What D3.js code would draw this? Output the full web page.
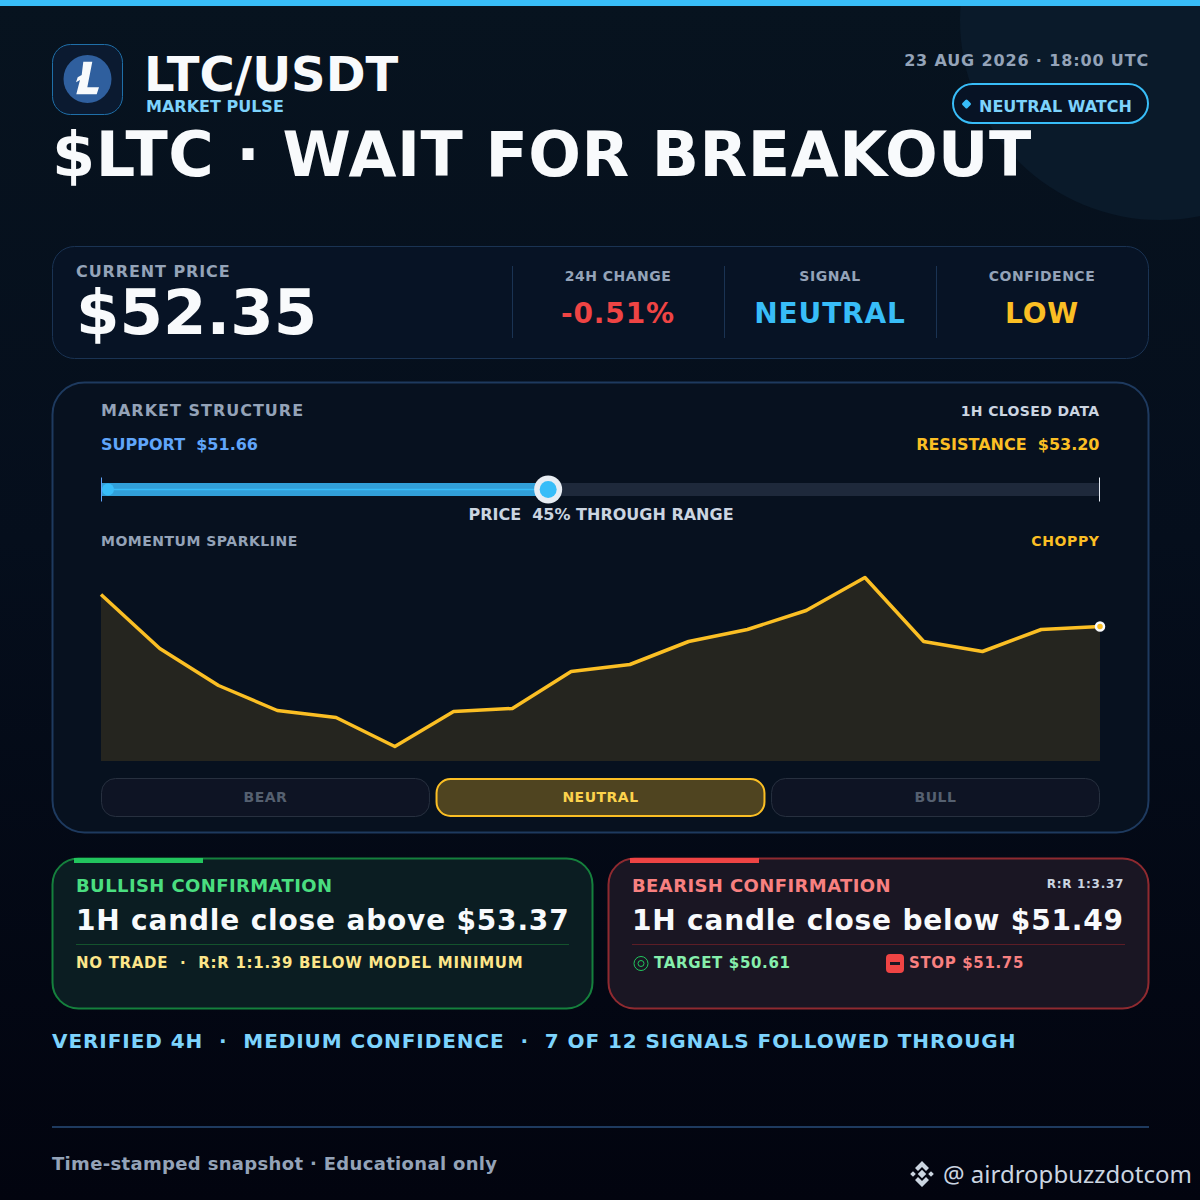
<!DOCTYPE html>
<html>
<head>
<meta charset="utf-8">
<script src="https://cdn.jsdelivr.net/npm/d3@7"></script>
<style>
  html, body { margin: 0; padding: 0; background: #02040f; }
  svg { display: block; }
  text { font-family: "DejaVu Sans", sans-serif; font-weight: 700; white-space: pre; }
</style>
</head>
<body>
<script>
// Values
const momentum = [83.5, 56.5, 38, 25.5, 22, 7.5, 25, 26.5, 45, 48.5, 60, 66, 75.5, 92, 60, 55, 66, 67.5];
const support = 51.66, resistance = 53.2, price = 52.35;
const stats = [
  { label: "24H CHANGE", value: "-0.51%", color: "#ef4444", cx: 618 },
  { label: "SIGNAL", value: "NEUTRAL", color: "#38bdf8", cx: 830 },
  { label: "CONFIDENCE", value: "LOW", color: "#fbbf24", cx: 1042 }
];
const zones = ["BEAR", "NEUTRAL", "BULL"];
const activeZone = "NEUTRAL";

const svg = d3.select("body").append("svg").attr("width", 1200).attr("height", 1200);
const defs = svg.append("defs");

// Page background
const bg = defs.append("linearGradient").attr("id", "bg").attr("x2", 0).attr("y2", 1);
bg.append("stop").attr("offset", "0%").attr("stop-color", "#07131f");
bg.append("stop").attr("offset", "45%").attr("stop-color", "#050e1c");
bg.append("stop").attr("offset", "100%").attr("stop-color", "#02040f");

svg.append("rect").attr("width", 1200).attr("height", 1200).attr("fill", "url(#bg)");
svg.append("circle").attr("cx", 1160).attr("cy", 20).attr("r", 200).attr("fill", "#0a1a2a");
svg.append("rect").attr("width", 1200).attr("height", 6).attr("fill", "#38bdf8");

// Small helpers
function label(x, y, str, size, color, anchor, spacing) {
  return svg.append("text")
    .attr("x", x).attr("y", y)
    .attr("font-size", size)
    .attr("fill", color)
    .attr("text-anchor", anchor || "start")
    .attr("letter-spacing", spacing || 0)
    .text(str);
}
function box(x, y, w, h, r, fill, stroke, sw) {
  return svg.append("rect")
    .attr("x", x).attr("y", y).attr("width", w).attr("height", h)
    .attr("rx", r).attr("ry", r)
    .attr("fill", fill).attr("stroke", stroke).attr("stroke-width", sw || 1);
}

// Header
box(52.5, 44.5, 70, 70, 18, "#0b1a30", "#1f6fa8");
svg.append("circle").attr("cx", 87.5).attr("cy", 79).attr("r", 24).attr("fill", "#2f5f9e");
svg.append("path")
  .attr("d", "M83.3,61.7 L92.3,61.7 L87.3,87.3 L99,87.3 L96.7,94.3 L76.3,94.3 L80,80 L76,82.3 L77.7,77.3 L81.7,75 Z")
  .attr("fill", "#f8fafc");
label(144, 91, "LTC/USDT", 48, "#f8fafc");
label(146, 112, "MARKET PULSE", 16, "#7dd3fc");
label(1149, 66, "23 AUG 2026 · 18:00 UTC", 16, "#94a3b8", "end", 0.85);
box(953, 84, 195, 39, 19.5, "#071325", "#38bdf8", 2);
svg.append("rect").attr("x", -3.6).attr("y", -3.6).attr("width", 7.2).attr("height", 7.2).attr("rx", 1.5)
  .attr("transform", "translate(966.5,104) rotate(45)").attr("fill", "#38bdf8");
label(979, 112, "NEUTRAL WATCH", 16, "#7dd3fc");
label(52, 176, "$LTC · WAIT FOR BREAKOUT", 62, "#f8fafc", "start", 0.5);

// Price card
box(52.5, 246.5, 1096, 112, 22, "#071325", "#1a3353");
label(76, 277, "CURRENT PRICE", 16, "#94a3b8", "start", 0.9);
label(76, 334, "$" + price.toFixed(2), 62.5, "#f8fafc");
[512.5, 724.5, 936.5].forEach(x => {
  svg.append("line").attr("x1", x).attr("x2", x).attr("y1", 266).attr("y2", 338).attr("stroke", "#1a3353");
});
stats.forEach(d => {
  label(d.cx, 281, d.label, 14, "#94a3b8", "middle", 0.5);
  label(d.cx, 323, d.value, 28, d.color, "middle", 0.85);
});

// Market structure panel
box(52.5, 382.5, 1096, 450, 32, "#07111f", "#1e3a5f", 2);
label(101, 416, "MARKET STRUCTURE", 16, "#94a3b8", "start", 1);
label(1099.5, 416, "1H CLOSED DATA", 14, "#cbd5e1", "end", 0.36);
label(101, 450, "SUPPORT  $" + support.toFixed(2), 16, "#60a5fa");
label(1099.5, 450, "RESISTANCE  $" + resistance.toFixed(2), 16, "#fbbf24", "end");

// Range bar
const rangeX = d3.scaleLinear().domain([support, resistance]).range([101, 1099]);
const barY = 489.5;
svg.append("line").attr("x1", rangeX(support)).attr("x2", rangeX(resistance)).attr("y1", barY).attr("y2", barY)
  .attr("stroke", "#1e293b").attr("stroke-width", 13);
svg.append("line").attr("x1", rangeX(support)).attr("x2", rangeX(price)).attr("y1", barY).attr("y2", barY)
  .attr("stroke", "#319fd8").attr("stroke-width", 13);
svg.append("line").attr("x1", rangeX(support)).attr("x2", rangeX(price)).attr("y1", barY).attr("y2", barY)
  .attr("stroke", "#38bdf8").attr("stroke-width", 1.5);
svg.selectAll(".range-end").data([support, resistance]).enter().append("line")
  .attr("class", "range-end")
  .attr("x1", d => rangeX(d) + 0.5).attr("x2", d => rangeX(d) + 0.5)
  .attr("y1", barY - 12).attr("y2", barY + 12)
  .attr("stroke", (d, i) => i ? "#e2e8f0" : "#60a5fa");
svg.append("circle").attr("cx", rangeX(support) + 7).attr("cy", barY).attr("r", 6).attr("fill", "#38bdf8");
svg.append("circle").attr("cx", rangeX(price)).attr("cy", barY).attr("r", 14).attr("fill", "#e8edf3");
svg.append("circle").attr("cx", rangeX(price)).attr("cy", barY).attr("r", 8.5).attr("fill", "#38bdf8");
label(601, 520, "PRICE  45% THROUGH RANGE", 16, "#cbd5e1", "middle");

// Sparkline
label(101, 546, "MOMENTUM SPARKLINE", 14, "#94a3b8", "start", 0.5);
label(1099.5, 546, "CHOPPY", 14, "#fbbf24", "end", 0.6);
const sx = d3.scaleLinear().domain([0, momentum.length - 1]).range([101, 1100]);
const sy = d3.scaleLinear().domain([0, 100]).range([761.5, 561.5]);
svg.append("path").datum(momentum)
  .attr("d", d3.area().x((d, i) => sx(i)).y0(761).y1(d => sy(d)))
  .attr("fill", "#fbbf24").attr("fill-opacity", 0.12);
svg.append("path").datum(momentum)
  .attr("d", d3.line().x((d, i) => sx(i)).y(d => sy(d)))
  .attr("fill", "none").attr("stroke", "#fbbf24").attr("stroke-width", 3.5).attr("stroke-linejoin", "round");
svg.append("circle")
  .attr("cx", sx(momentum.length - 1)).attr("cy", sy(momentum[momentum.length - 1]))
  .attr("r", 4).attr("fill", "#fbbf24").attr("stroke", "#f8fafc").attr("stroke-width", 2.5);

// Bear / neutral / bull strip
const zoneX = d3.scaleBand().domain(zones).range([101, 1100]).paddingInner(0.0182);
zones.forEach(z => {
  const on = z === activeZone;
  box(zoneX(z) + 0.5, on ? 779 : 778.5, zoneX.bandwidth() - 1, on ? 37 : 38, 14,
    on ? "#4f4420" : "#0e1424", on ? "#fbbf24" : "#27303f", on ? 2 : 1);
  label(zoneX(z) + zoneX.bandwidth() / 2, 802, z, 14, on ? "#fcd34d" : "#556070", "middle", 0.5);
});

// Confirmation cards
box(52.5, 858.5, 540, 150, 26, "#0b1d22", "#15803d", 2);
svg.append("rect").attr("x", 74).attr("y", 858).attr("width", 129).attr("height", 5).attr("fill", "#22c55e");
label(76, 892, "BULLISH CONFIRMATION", 18, "#4ade80", "start", 0.4);
label(76, 930, "1H candle close above $53.37", 28, "#f8fafc", "start", 0.82);
svg.append("line").attr("x1", 76).attr("x2", 569).attr("y1", 944.5).attr("y2", 944.5).attr("stroke", "#14532d");
label(76, 968, "NO TRADE  ·  R:R 1:1.39 BELOW MODEL MINIMUM", 15, "#fde68a", "start", 0.7);

box(608.5, 858.5, 540, 150, 26, "#1a1623", "#8f2a30", 2);
svg.append("rect").attr("x", 630).attr("y", 858).attr("width", 129).attr("height", 5).attr("fill", "#ef4444");
label(632, 892, "BEARISH CONFIRMATION", 18, "#f88080", "start", 0.4);
label(1124, 888, "R:R 1:3.37", 12, "#cbd5e1", "end", 0.7);
label(632, 930, "1H candle close below $51.49", 28, "#f8fafc", "start", 0.82);
svg.append("line").attr("x1", 632).attr("x2", 1125).attr("y1", 944.5).attr("y2", 944.5).attr("stroke", "#5c1d26");

// Target icon
svg.append("circle").attr("cx", 641).attr("cy", 963.5).attr("r", 7).attr("fill", "none").attr("stroke", "#22c55e");
svg.append("circle").attr("cx", 641).attr("cy", 963.5).attr("r", 3).attr("fill", "none").attr("stroke", "#22c55e");
label(654, 968, "TARGET $50.61", 15, "#86efac", "start", 0.65);
// Stop icon
box(886, 954, 18, 19, 4, "#ef4444", "none", 0);
svg.append("rect").attr("x", 890).attr("y", 962).attr("width", 10).attr("height", 3).attr("fill", "#1a1623");
label(909, 968, "STOP $51.75", 15, "#f88080", "start", 0.65);

// Footer
label(52, 1048, "VERIFIED 4H  ·  MEDIUM CONFIDENCE  ·  7 OF 12 SIGNALS FOLLOWED THROUGH", 20, "#7dd3fc", "start", 0.93);
svg.append("line").attr("x1", 52).attr("x2", 1149).attr("y1", 1127).attr("y2", 1127).attr("stroke", "#1e3a5f").attr("stroke-width", 2);
label(52, 1170, "Time-stamped snapshot · Educational only", 18, "#94a3b8", "start", 0.33);

// Watermark
const mark = svg.append("g").attr("transform", "translate(922,1174)").attr("fill", "#cbd5e1");
[[0, 0, 3], [-9, 0, 2], [9, 0, 2]].forEach(d => {
  mark.append("rect").attr("x", d[0] - d[2]).attr("y", d[1] - d[2]).attr("width", d[2] * 2).attr("height", d[2] * 2)
    .attr("transform", `rotate(45 ${d[0]} ${d[1]})`);
});
mark.append("path").attr("d", "M0,-13 L7,-6 L4,-3 L0,-7 L-4,-3 L-7,-6 Z");
mark.append("path").attr("d", "M0,13 L7,6 L4,3 L0,7 L-4,3 L-7,6 Z");
label(943, 1183, "@ airdropbuzzdotcom", 24, "#cbd5e1").style("font-family", "'Noto Sans'").style("font-weight", 400);
</script>
</body>
</html>
